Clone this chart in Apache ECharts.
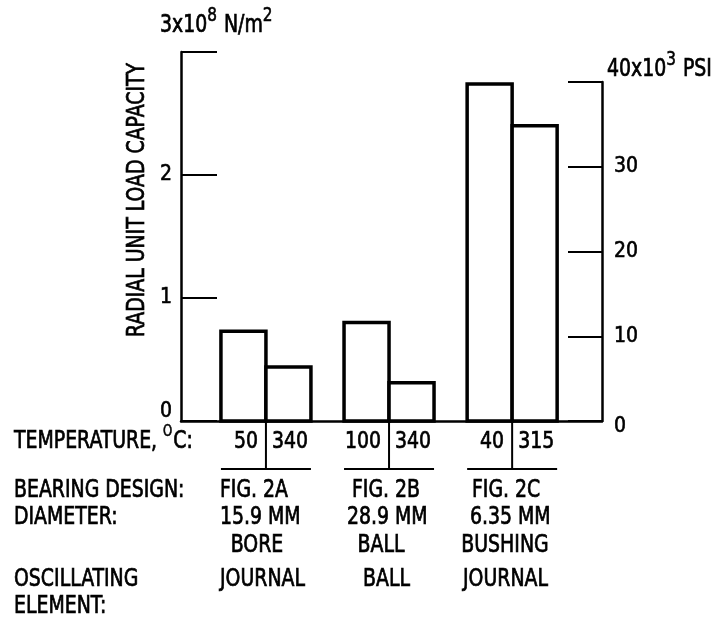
<!DOCTYPE html>
<html>
<head>
<meta charset="utf-8">
<script src="https://cdn.jsdelivr.net/npm/echarts@6/dist/echarts.min.js"></script>
<style>
html,body{margin:0;padding:0;background:#fff;}
#chart{width:728px;height:638px;}
</style>
</head>
<body>
<div id="chart"></div>
<script>
// ---- data ----
var pairPositions = [1, 2, 3];
var lowTempLoad = [0.73, 0.80, 2.74];   // x10^8 N/m^2
var highTempLoad = [0.44, 0.31, 2.40];  // x10^8 N/m^2
var lowTemps = ['50', '100', '40'];
var highTemps = ['340', '340', '315'];
var leftTicks = [0, 1, 2, 3];
var rightTicks = [0, 10, 20, 30, 40];
var designs = ['FIG. 2A', 'FIG. 2B', 'FIG. 2C'];
var diameters = ['15.9 MM', '28.9 MM', '6.35 MM'];
var diameterKinds = ['BORE', 'BALL', 'BUSHING'];
var elements = ['JOURNAL', 'BALL', 'JOURNAL'];

var FONT = "'Liberation Sans Narrow','DejaVu Sans Condensed','Arial Narrow',sans-serif";
var FS = 21;
var BAR_W = 45;
var SW = 0.6;

var chart = echarts.init(document.getElementById('chart'), null, {renderer: 'canvas'});

var seriesData = pairPositions.map(function (p, i) { return [p, lowTempLoad[i], highTempLoad[i]]; });

function renderPair(params, api) {
  var i = params.dataIndex;
  var pos = api.value(0);
  var base = api.coord([pos, 0]);
  var pLow = api.coord([pos, api.value(1)]);
  var pHigh = api.coord([pos, api.value(2)]);
  var cx = base[0], by = base[1];
  var rectStyle = {fill: '#fff', stroke: '#000', lineWidth: 3.5};
  var lineStyle = {stroke: '#000', lineWidth: 2};
  var tf = FS + 'px ' + FONT;
  return {
    type: 'group',
    children: [
      {type: 'rect', shape: {x: cx - BAR_W, y: pLow[1], width: BAR_W, height: by - pLow[1]}, style: rectStyle},
      {type: 'rect', shape: {x: cx, y: pHigh[1], width: BAR_W, height: by - pHigh[1]}, style: rectStyle},
      {type: 'line', shape: {x1: cx, y1: by, x2: cx, y2: by + 48}, style: lineStyle},
      {type: 'line', shape: {x1: cx - BAR_W, y1: by + 48, x2: cx + BAR_W, y2: by + 48}, style: lineStyle},
      {type: 'text', x: cx - 8, y: by + 21, scaleY: 1.12,
       style: {text: lowTemps[i], fill: '#000', stroke: '#000', lineWidth: SW, font: tf, textAlign: 'right', textVerticalAlign: 'middle'}},
      {type: 'text', x: cx + 6, y: by + 21, scaleY: 1.12,
       style: {text: highTemps[i], fill: '#000', stroke: '#000', lineWidth: SW, font: tf, textAlign: 'left', textVerticalAlign: 'middle'}}
    ]
  };
}

var labelCommon = {color: '#000', fontFamily: FONT, fontSize: 21, textBorderColor: '#000', textBorderWidth: SW};

var option = {
  backgroundColor: '#fff',
  animation: false,
  grid: [
    {left: 181, right: 126, top: 52, bottom: 217},
    {left: 181, right: 126, top: 82, bottom: 217}
  ],
  xAxis: [
    {gridIndex: 0, type: 'value', min: 0.31, max: 3.73,
     axisLine: {show: true, onZero: false, lineStyle: {color: '#000', width: 2.5}},
     axisTick: {show: false}, axisLabel: {show: false}, splitLine: {show: false}},
    {gridIndex: 1, type: 'value', min: 0.31, max: 3.73, show: false}
  ],
  yAxis: [
    {gridIndex: 0, type: 'value', min: leftTicks[0], max: leftTicks[leftTicks.length - 1], interval: 1,
     axisLine: {show: true, lineStyle: {color: '#000', width: 2.5}},
     axisTick: {show: true, inside: true, length: 36, lineStyle: {color: '#000', width: 2}},
     splitLine: {show: false},
     axisLabel: Object.assign({}, labelCommon, {margin: 9,
       formatter: function (v) { return v === 3 ? '' : (v === 0 ? '{z|0}' : String(v)); },
       rich: {z: {fontFamily: FONT, fontSize: 21, color: '#000', textBorderColor: '#000', textBorderWidth: SW, padding: [0, 0, 18, 0]}}})},
    {gridIndex: 1, type: 'value', position: 'right', min: rightTicks[0], max: rightTicks[rightTicks.length - 1], interval: 10,
     axisLine: {show: true, lineStyle: {color: '#000', width: 2.5}},
     axisTick: {show: true, inside: true, length: 34, lineStyle: {color: '#000', width: 2}},
     splitLine: {show: false},
     axisLabel: Object.assign({}, labelCommon, {margin: 12,
       formatter: function (v) { return v === 40 ? '' : (v === 0 ? '{z|0}' : String(v)); },
       rich: {z: {fontFamily: FONT, fontSize: 21, color: '#000', textBorderColor: '#000', textBorderWidth: SW, padding: [12, 0, 0, 0]}}})}
  ],
  series: [
    {type: 'custom', xAxisIndex: 0, yAxisIndex: 0, data: seriesData,
     encode: {x: 0, y: [1, 2]}, renderItem: renderPair, z: 3}
  ]
};
chart.setOption(option);

// ---- texts ----
function plain(s, x, y, align) {
  return {type: 'text', x: x, y: y, scaleY: 1.15, z: 10,
    style: {text: s, fill: '#000', stroke: '#000', lineWidth: SW, font: FS + 'px ' + FONT,
            textAlign: align || 'left', textVerticalAlign: 'middle'}};
}
// text with superscripts: parts = [[text, isSup], ...], laid out left to right
function supText(parts, x, y, supSize) {
  var ctx = document.createElement('canvas').getContext('2d');
  var children = [], cx = 0;
  parts.forEach(function (p) {
    var size = p[1] ? supSize : FS;
    ctx.font = size + 'px ' + FONT;
    children.push({type: 'text', x: cx, y: p[1] ? -9 : 0,
      style: {text: p[0], fill: '#000', stroke: '#000', lineWidth: p[1] ? 0.5 : SW, font: size + 'px ' + FONT,
              textAlign: 'left', textVerticalAlign: 'middle'}});
    cx += ctx.measureText(p[0]).width + (p[1] ? 1 : 0);
  });
  return {type: 'group', x: x, y: y, scaleY: 1.15, z: 10, children: children};
}
var g = [];
g.push(supText([['3x10', 0], ['8', 1], [' N/m', 0], ['2', 1]], 160, 26, 17));
g.push(supText([['40x10', 0], ['3', 1], [' PSI', 0]], 607, 70, 17));
g.push({type: 'text', x: 138, y: 200, rotation: Math.PI / 2, scaleY: 1.15, z: 10,
  style: {text: 'RADIAL UNIT LOAD CAPACITY', fill: '#000', stroke: '#000', lineWidth: SW, font: FS + 'px ' + FONT, textAlign: 'center', textVerticalAlign: 'middle'}});
g.push(supText([['TEMPERATURE, ', 0], ['O', 1], ['C:', 0]], 14, 442, 13));
g.push(plain('BEARING DESIGN:', 14, 491));
g.push(plain('DIAMETER:', 14, 518));
g.push(plain('OSCILLATING', 14, 580));
g.push(plain('ELEMENT:', 14, 607));

var colLeft = [220, 352, 472];
var dimLeft = [220, 347, 470];
var kindCenter = [257, 381, 505];
var elemLeft = [220, 363, 463];
pairPositions.forEach(function (p, i) {
  g.push(plain(designs[i], colLeft[i], 491));
  g.push(plain(diameters[i], dimLeft[i], 518));
  g.push(plain(diameterKinds[i], kindCenter[i], 546, 'center'));
  g.push(plain(elements[i], elemLeft[i], 580));
});
chart.setOption({graphic: g});
</script>
</body>
</html>
